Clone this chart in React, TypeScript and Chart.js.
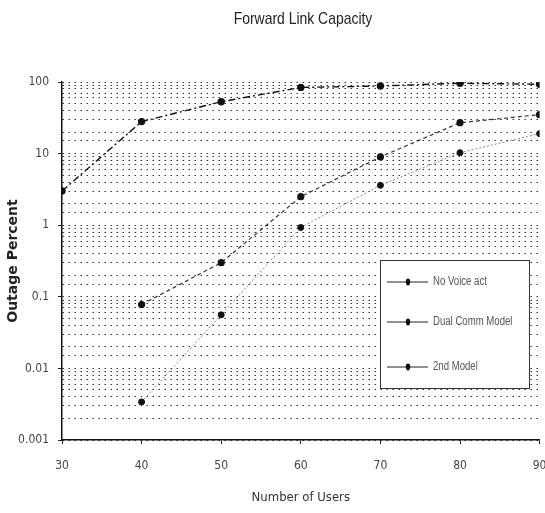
import React, { useEffect, useRef } from "react";
import { Chart, registerables } from "chart.js";

Chart.register(...registerables);

const TITLE = "Forward Link Capacity";
const X_TITLE = "Number of Users";
const Y_TITLE = "Outage Percent";

const users = [30, 40, 50, 60, 70, 80, 90];
const seriesNames = ["No Voice act", "Dual Comm Model", "2nd Model"];
const noVoice = [3.0, 28, 53, 84, 88, 96, 93];
const dualComm = [null, 0.078, 0.3, 2.5, 9.0, 27, 35];
const secondModel = [null, 0.0034, 0.056, 0.93, 3.6, 10.3, 19];

const yMin = 0.001;
const yMax = 100;
const xTickStep = 10;

const NARROW =
  '"Liberation Sans Narrow", "Arial Narrow", "DejaVu Sans Condensed", "Roboto Condensed", "Liberation Sans", sans-serif';

const toPoints = (vals: (number | null)[]) =>
  users.map((u, i) => ({ x: u, y: vals[i] }));

const isDecade = (v: number) => {
  const l = Math.log10(v);
  return Math.abs(l - Math.round(l)) < 1e-9;
};

const legendBox = { x1: 380, y1: 260, x2: 529, y2: 388 };

const overlayPlugin = {
  id: "overlay",
  afterDraw(chart: any) {
    const ctx = chart.ctx as CanvasRenderingContext2D;
    ctx.save();
    // Title (horizontally condensed)
    ctx.fillStyle = "#222";
    ctx.font = `17px "Liberation Sans", sans-serif`;
    ctx.textAlign = "center";
    ctx.textBaseline = "middle";
    ctx.save();
    ctx.translate(303, 19);
    ctx.scale(0.82, 1);
    ctx.fillText(TITLE, 0, 0);
    ctx.restore();

    // Legend box
    const { x1, y1, x2, y2 } = legendBox;
    ctx.fillStyle = "#fff";
    ctx.fillRect(x1, y1, x2 - x1, y2 - y1);
    ctx.strokeStyle = "#333";
    ctx.lineWidth = 1;
    ctx.setLineDash([]);
    ctx.strokeRect(x1 + 0.5, y1 + 0.5, x2 - x1, y2 - y1);
    const rows = [282, 322, 367];
    chart.data.datasets.forEach((ds: any, i: number) => {
      const y = rows[i];
      ctx.strokeStyle = "#222";
      ctx.lineWidth = 1;
      ctx.beginPath();
      ctx.moveTo(387, y);
      ctx.lineTo(428, y);
      ctx.stroke();
      ctx.fillStyle = "#111";
      ctx.beginPath();
      ctx.ellipse(408, y, 2.2, 3.4, 0, 0, Math.PI * 2);
      ctx.fill();
      ctx.fillStyle = "#555";
      ctx.font = `12px "Liberation Sans", sans-serif`;
      ctx.textAlign = "left";
      ctx.textBaseline = "middle";
      ctx.save();
      ctx.translate(433, y);
      ctx.scale(0.8, 1);
      ctx.fillText(ds.label, 0, 0);
      ctx.restore();
    });
    ctx.restore();
  },
};

export default function App() {
  const ref = useRef<HTMLCanvasElement>(null);
  useEffect(() => {
    if (!ref.current) return;
    const chart = new Chart(ref.current, {
      type: "line",
      data: {
        datasets: [
          {
            label: seriesNames[0],
            data: toPoints(noVoice),
            borderColor: "#111",
            borderWidth: 1.4,
            borderDash: [7, 3, 2, 3],
            pointStyle: "circle",
            pointRadius: 3,
            pointBackgroundColor: "#111",
            pointBorderColor: "#111",
            spanGaps: false,
            tension: 0,
          },
          {
            label: seriesNames[1],
            data: toPoints(dualComm),
            borderColor: "#333",
            borderWidth: 1.2,
            borderDash: [4, 3],
            pointStyle: "circle",
            pointRadius: 3,
            pointBackgroundColor: "#111",
            pointBorderColor: "#111",
            spanGaps: false,
            tension: 0,
          },
          {
            label: seriesNames[2],
            data: toPoints(secondModel),
            borderColor: "#888",
            borderWidth: 1,
            borderDash: [2, 2],
            pointStyle: "circle",
            pointRadius: 3,
            pointBackgroundColor: "#111",
            pointBorderColor: "#111",
            spanGaps: false,
            tension: 0,
          },
        ],
      },
      options: {
        responsive: false,
        animation: false,
        devicePixelRatio: 1,
        layout: { padding: { top: 82, right: 5, bottom: 0, left: 0 } },
        plugins: {
          legend: { display: false },
          title: { display: false },
          tooltip: { enabled: false },
        },
        scales: {
          x: {
            type: "linear",
            min: users[0],
            max: users[users.length - 1],
            ticks: {
              stepSize: xTickStep,
              color: "#444",
              font: { family: NARROW, size: 12 },
              padding: 15,
            },
            grid: {
              drawOnChartArea: false,
              drawTicks: true,
              tickLength: 4,
              color: "#222",
            },
            border: { color: "#111", width: 1.5 },
            title: {
              display: true,
              text: X_TITLE,
              color: "#333",
              font: { family: NARROW, size: 13 },
              padding: { top: 0, bottom: 8 },
            },
            afterFit: (s: any) => {
              s.height = 73;
              s.paddingLeft = 0;
              s.paddingRight = 0;
            },
          },
          y: {
            type: "logarithmic",
            min: yMin,
            max: yMax,
            ticks: {
              autoSkip: false,
              color: "#444",
              font: { family: NARROW, size: 12 },
              padding: 9,
              callback: (v: any) => (isDecade(Number(v)) ? String(Number(v)) : ""),
            },
            grid: {
              color: "#333",
              lineWidth: 1,
              drawTicks: true,
              tickLength: 4,
              tickColor: (c: any) =>
                c.tick && isDecade(Number(c.tick.value)) ? "#222" : "rgba(0,0,0,0)",
            },
            border: { color: "#111", width: 1.5, dash: [1.5, 4.5] },
            title: {
              display: true,
              text: Y_TITLE,
              color: "#222",
              font: { family: "DejaVu Sans", size: 14, weight: "bold" },
              padding: { top: 5, bottom: 0 },
            },
            afterFit: (s: any) => {
              s.width = 62;
              s.paddingTop = 0;
              s.paddingBottom = 0;
            },
          },
        },
      },
      plugins: [overlayPlugin],
    } as any);
    return () => chart.destroy();
  }, []);
  return (
    <div style={{ position: "fixed", left: 0, top: 0, width: 545, height: 513, background: "#fff" }}>
      <canvas ref={ref} width={545} height={513} />
    </div>
  );
}
